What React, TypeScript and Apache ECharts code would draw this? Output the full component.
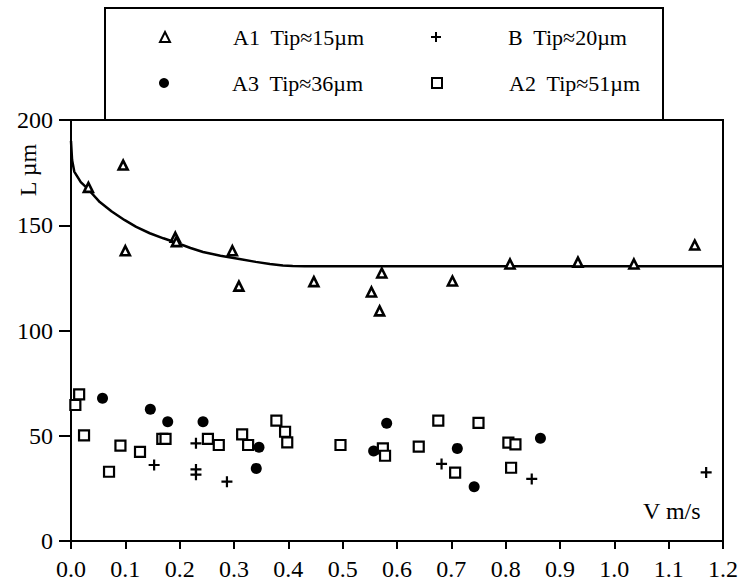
import React, { useEffect, useRef } from "react";
import * as echarts from "echarts";

const xTicks = [0, 0.1, 0.2, 0.3, 0.4, 0.5, 0.6, 0.7, 0.8, 0.9, 1.0, 1.1, 1.2];
const yTicks = [0, 50, 100, 150, 200];

const nameA1 = "A1  Tip≈15µm";
const nameB = "B  Tip≈20µm";
const nameA3 = "A3  Tip≈36µm";
const nameA2 = "A2  Tip≈51µm";

const a1Points = [
  [0.032, 168], [0.096, 178.6], [0.1, 137.9], [0.192, 144.3], [0.194, 142.2],
  [0.297, 137.9], [0.309, 121.1], [0.447, 123.2], [0.553, 118.3], [0.572, 127.3],
  [0.568, 109.3], [0.702, 123.5], [0.808, 131.6], [0.933, 132.5], [1.036, 131.6],
  [1.148, 140.6],
];

const bPoints = [
  [0.153, 36.1], [0.23, 46.4], [0.23, 34], [0.23, 31.5], [0.287, 28.2],
  [0.682, 36.6], [0.848, 29.5], [1.169, 32.6],
];

const a3Points = [
  [0.058, 67.8], [0.146, 62.6], [0.178, 56.7], [0.243, 56.7], [0.346, 44.5],
  [0.341, 34.5], [0.557, 42.8], [0.581, 55.9], [0.711, 44], [0.742, 25.8],
  [0.864, 48.8],
];

const a2Points = [
  [0.008, 64.6], [0.015, 69.7], [0.024, 50.2], [0.07, 32.9], [0.091, 45.3],
  [0.127, 42.3], [0.168, 48.5], [0.174, 48.5], [0.252, 48.5], [0.272, 45.6],
  [0.315, 50.7], [0.326, 45.6], [0.378, 57.2], [0.394, 51.9], [0.398, 46.9],
  [0.496, 45.6], [0.574, 44], [0.578, 40.5], [0.64, 44.8], [0.676, 57.2],
  [0.707, 32.5], [0.75, 56.1], [0.805, 46.7], [0.818, 45.9], [0.81, 34.8],
];

const fitCurve = [
  [0, 190], [0.002, 181], [0.006, 175.5], [0.018, 170.5], [0.032, 167],
  [0.053, 161], [0.075, 156.5], [0.099, 152.4], [0.12, 149.2], [0.145, 146.2],
  [0.17, 143.8], [0.194, 141.7], [0.22, 139.2], [0.243, 137.3], [0.275, 135.5],
  [0.31, 134.0], [0.34, 132.6], [0.366, 131.6], [0.39, 130.9], [0.408, 130.6],
  [0.43, 130.5], [1.2, 130.5],
];

const SERIF = "Liberation Serif, Times New Roman, serif";
const PLUS = "path://M4,0h2v4h4v2h-4v4h-2v-4h-4v-2h4z";

export default function App() {
  const ref = useRef<HTMLDivElement>(null);
  useEffect(() => {
    document.body.style.margin = "0";
    if (!ref.current) return;
    const chart = echarts.init(ref.current, null, { renderer: "svg" });
    const mkLegend = (name: string, left: number, top: number, pad: number) => ({
      data: [name],
      left,
      top,
      padding: 0,
      itemWidth: 10,
      itemHeight: 10,
      orient: "horizontal",
      selectedMode: false,
      textStyle: {
        fontFamily: SERIF,
        fontSize: 22,
        color: "#000",
        lineHeight: 22,
        padding: [0, 0, 0, pad],
      },
    });
    chart.setOption({
      animation: false,
      backgroundColor: "#fff",
      textStyle: { fontFamily: SERIF, color: "#000" },
      grid: {
        left: 71,
        right: 19,
        top: 120,
        bottom: 42,
        show: true,
        borderColor: "#000",
        borderWidth: 2,
        backgroundColor: "transparent",
      },
      legend: [
        mkLegend(nameA1, 159, 26, 58),
        mkLegend(nameB, 431, 26, 62),
        mkLegend(nameA3, 159, 72, 58),
        mkLegend(nameA2, 431, 72, 62),
      ],
      xAxis: {
        type: "value",
        min: xTicks[0],
        max: xTicks[xTicks.length - 1],
        interval: 0.1,
        axisLine: { show: true, lineStyle: { color: "#000", width: 2 } },
        axisTick: { show: true, length: 8, lineStyle: { color: "#000", width: 2 } },
        splitLine: { show: false },
        axisLabel: {
          color: "#000",
          fontFamily: SERIF,
          fontSize: 24,
          margin: 16,
          formatter: (v: number) => v.toFixed(1),
        },
      },
      yAxis: {
        type: "value",
        min: yTicks[0],
        max: yTicks[yTicks.length - 1],
        interval: 50,
        axisLine: { show: true, lineStyle: { color: "#000", width: 2 } },
        axisTick: { show: true, length: 12, lineStyle: { color: "#000", width: 2 } },
        splitLine: { show: false },
        axisLabel: {
          color: "#000",
          fontFamily: SERIF,
          fontSize: 24,
          margin: 18,
        },
      },
      graphic: [
        {
          type: "rect",
          shape: { x: 105, y: 8, width: 558, height: 112 },
          style: { fill: "none", stroke: "#000", lineWidth: 2 },
          z: 10,
        },
        {
          type: "text",
          x: 28,
          y: 170,
          rotation: Math.PI / 2,
          style: {
            text: "L µm",
            fontFamily: SERIF,
            fontSize: 24,
            fill: "#000",
            align: "center",
            verticalAlign: "middle",
          },
        },
        {
          type: "text",
          x: 643,
          y: 511,
          style: {
            text: "V m/s",
            fontFamily: SERIF,
            fontSize: 24,
            fill: "#000",
            align: "left",
            verticalAlign: "middle",
          },
        },
      ],
      series: [
        {
          name: "fit",
          type: "line",
          data: fitCurve,
          showSymbol: false,
          smooth: false,
          lineStyle: { color: "#000", width: 2.5 },
          z: 1,
        },
        {
          name: nameA1,
          type: "scatter",
          data: a1Points,
          symbol: "triangle",
          symbolSize: 9,
          itemStyle: { color: "#fff", borderColor: "#000", borderWidth: 2.6, opacity: 1 },
          z: 3,
        },
        {
          name: nameB,
          type: "scatter",
          data: bPoints,
          symbol: PLUS,
          symbolSize: 11,
          itemStyle: { color: "#000", opacity: 1 },
          z: 3,
        },
        {
          name: nameA3,
          type: "scatter",
          data: a3Points,
          symbol: "circle",
          symbolSize: 11,
          itemStyle: { color: "#000", opacity: 1 },
          z: 3,
        },
        {
          name: nameA2,
          type: "scatter",
          data: a2Points,
          symbol: "rect",
          symbolSize: 10,
          itemStyle: { color: "#fff", borderColor: "#000", borderWidth: 2.2, opacity: 1 },
          z: 3,
        },
      ],
    });
    return () => chart.dispose();
  }, []);
  return <div ref={ref} style={{ width: 742, height: 583 }} />;
}
